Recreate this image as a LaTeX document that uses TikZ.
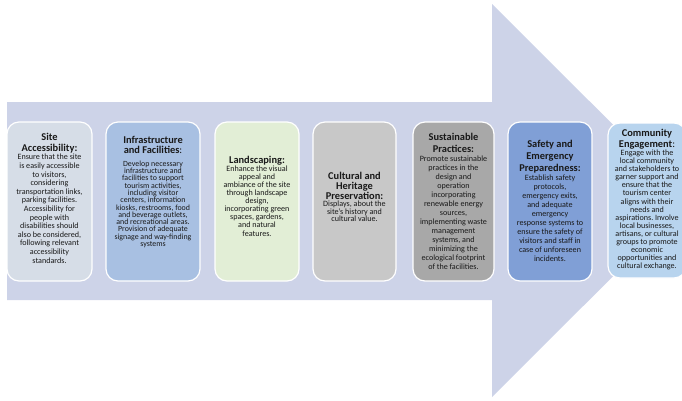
\documentclass[tikz,border=0pt]{standalone}
\usepackage{fontspec}
\setmainfont{Carlito}
\frenchspacing
\definecolor{arrowfill}{RGB}{205,211,232}
\definecolor{cardA}{RGB}{214,221,231}
\definecolor{cardB}{RGB}{168,192,226}
\definecolor{cardC}{RGB}{226,238,214}
\definecolor{cardD}{RGB}{200,200,200}
\definecolor{cardE}{RGB}{168,168,168}
\definecolor{cardF}{RGB}{128,159,214}
\definecolor{cardG}{RGB}{184,212,238}
% card text: #1 title leading, #2 body size, #3 body leading, #4 gap, #5 title, #6 body
\newcommand{\cardtext}[6]{%
  {\fontsize{10.4}{#1}\selectfont\spaceskip=.22em\relax\bfseries #5\par}\vspace{#4}%
  {\fontsize{#2}{#3}\selectfont\spaceskip=.22em\relax #6\par}}
\begin{document}
\begin{tikzpicture}[x=1pt,y=-1pt,
  card/.style={draw=white, line width=1.2pt, rounded corners=12pt,
    inner sep=0pt, minimum height=159pt},
  words/.style={inner sep=0pt, align=center, text=black!90},
]
\useasboundingbox (0,0) rectangle (682,400);
% the big arrow behind the cards
\fill[arrowfill] (7,102) -- (492,102) -- (492,4) -- (689,200.5)
  -- (492,397) -- (492,300) -- (7,300) -- cycle;

% card backgrounds
\node[card, fill=cardA, minimum width=85pt] (access) at (49.5,201.5) {};
\node[card, fill=cardB, minimum width=94pt] (infra) at (153,201.5) {};
\node[card, fill=cardC, minimum width=84pt] (land) at (257,201.5) {};
\node[card, fill=cardD, minimum width=83pt] (culture) at (354.5,201.5) {};
\node[card, fill=cardE, minimum width=81pt] (sustain) at (453.5,201.5) {};
\node[card, fill=cardF, minimum width=84pt] (safety) at (550,201.5) {};
\node[card, fill=cardG, minimum width=78pt, minimum height=155pt] (community) at (647,200.5) {};

% card texts
\node[words, text width=84pt] (accessText) at (49.5,198)
 {\cardtext{11}{8.1}{8.6}{0pt}{Site\\Accessibility:}
  {Ensure that the site\\is easily accessible\\to visitors,\\considering\\transportation links,\\parking facilities.\\Accessibility for\\people with\\disabilities should\\also be considered,\\following relevant\\accessibility\\standards.}};

\node[words, text width=96pt] (infraText) at (153,192)
 {\cardtext{10.6}{7.9}{7.3}{5pt}{Infrastructure\\and Facilities\mdseries:}
  {Develop necessary\\infrastructure and\\facilities to support\\tourism activities,\\including visitor\\centers, information\\kiosks, restrooms, food\\and beverage outlets,\\and recreational areas.\\Provision of adequate\\signage and way-finding\\systems}};

\node[words, text width=84pt] (landText) at (257,196)
 {\cardtext{11}{8.1}{8.1}{0pt}{Landscaping:}
  {Enhance the visual\\appeal and\\ambiance of the site\\through landscape\\design,\\incorporating green\\spaces, gardens,\\and natural\\features.}};

\node[words, text width=83pt] (cultureText) at (354.5,197)
 {\cardtext{10}{8.1}{7.5}{0pt}{Cultural and\\Heritage\\Preservation:}
  {Displays, about the\\site's history and\\cultural value.}};

\node[words, text width=81pt] (sustainText) at (453.5,201)
 {\cardtext{12}{8.1}{9}{0pt}{Sustainable\\Practices:}
  {Promote sustainable\\practices in the\\design and\\operation\\incorporating\\renewable energy\\sources,\\implementing waste\\management\\systems, and\\minimizing the\\ecological footprint\\of the facilities.}};

\node[words, text width=84pt] (safetyText) at (550,200.5)
 {\cardtext{12}{8.1}{9}{0pt}{Safety and\\Emergency\\Preparedness:}
  {Establish safety\\protocols,\\emergency exits,\\and adequate\\emergency\\response systems to\\ensure the safety of\\visitors and staff in\\case of unforeseen\\incidents.}};

\node[words, text width=80pt] (communityText) at (647,199.5)
 {\cardtext{11.2}{8.1}{8.1}{0pt}{Community\\Engagement\mdseries:}
  {Engage with the\\local community\\and stakeholders to\\garner support and\\ensure that the\\tourism center\\aligns with their\\needs and\\aspirations. Involve\\local businesses,\\artisans, or cultural\\groups to promote\\economic\\opportunities and\\cultural exchange.}};
\end{tikzpicture}
\end{document}
